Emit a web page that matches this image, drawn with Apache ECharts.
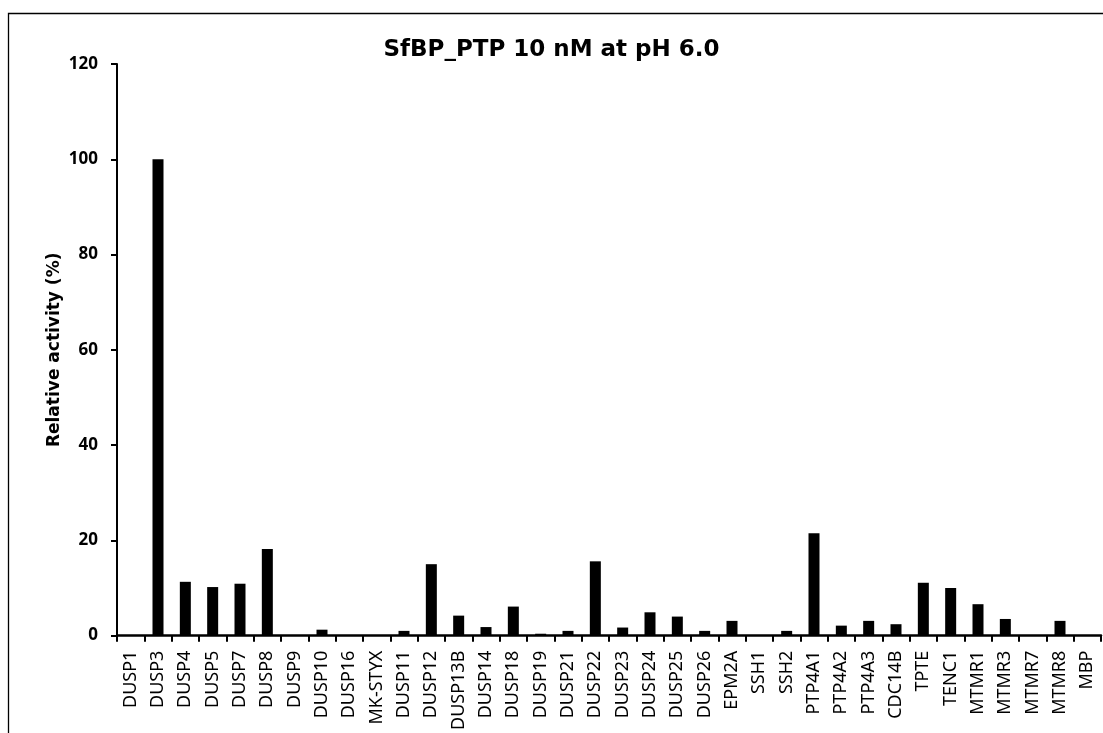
<!DOCTYPE html>
<html>
<head>
<meta charset="utf-8">
<script src="https://cdn.jsdelivr.net/npm/echarts@6/dist/echarts.min.js"></script>
<style>
  html, body { margin: 0; padding: 0; background: #fff; }
  #chart { width: 1103px; height: 733px; }
</style>
</head>
<body>
<div id="chart"></div>
<script>
// Phosphatase panel and relative activity (%) of SfBP_PTP at 10 nM, pH 6.0
const categories = [
  'DUSP1', 'DUSP3', 'DUSP4', 'DUSP5', 'DUSP7', 'DUSP8', 'DUSP9', 'DUSP10', 'DUSP16',
  'MK-STYX', 'DUSP11', 'DUSP12', 'DUSP13B', 'DUSP14', 'DUSP18', 'DUSP19', 'DUSP21',
  'DUSP22', 'DUSP23', 'DUSP24', 'DUSP25', 'DUSP26', 'EPM2A', 'SSH1', 'SSH2', 'PTP4A1',
  'PTP4A2', 'PTP4A3', 'CDC14B', 'TPTE', 'TENC1', 'MTMR1', 'MTMR3', 'MTMR7', 'MTMR8', 'MBP'
];
const activity = [
  0, 100, 11.3, 10.2, 10.9, 18.2, 0, 1.25, 0,
  0, 1.0, 15.0, 4.2, 1.8, 6.1, 0.4, 1.0,
  15.6, 1.7, 4.9, 4.0, 1.0, 3.1, 0, 1.0, 21.5,
  2.1, 3.1, 2.4, 11.1, 10.0, 6.6, 3.5, 0, 3.1, 0
];
const yTicks = [0, 20, 40, 60, 80, 100, 120];

const chart = echarts.init(document.getElementById('chart'), null, { renderer: 'canvas' });
const sans = '"Noto Sans", "DejaVu Sans", sans-serif';
const wide = '"DejaVu Sans", "Noto Sans", sans-serif';

chart.setOption({
  animation: false,
  backgroundColor: '#fff',
  title: {
    text: 'SfBP_PTP 10 nM at pH 6.0',
    left: 'center',
    top: 34,
    textStyle: { fontFamily: wide, fontWeight: 'bold', fontSize: 23, color: '#000' }
  },
  graphic: [{
    type: 'rect',
    silent: true,
    z: -1,
    shape: { x: 8.5, y: 13.5, width: 1200, height: 800 },
    style: { fill: 'none', stroke: '#000', lineWidth: 1.3 }
  }],
  grid: { left: 117, top: 64, right: 2, bottom: 94, containLabel: false },
  xAxis: {
    type: 'category',
    data: categories,
    boundaryGap: true,
    axisLine: { lineStyle: { color: '#000', width: 2.5 } },
    axisTick: { show: true, alignWithLabel: false, length: 6, lineStyle: { color: '#000', width: 2 } },
    axisLabel: {
      interval: 0,
      rotate: 90,
      margin: 15,
      color: '#000',
      fontFamily: sans,
      fontSize: 18
    },
    splitLine: { show: false }
  },
  yAxis: {
    type: 'value',
    min: yTicks[0],
    max: yTicks[yTicks.length - 1],
    interval: yTicks[1] - yTicks[0],
    name: 'Relative activity (%)',
    nameLocation: 'middle',
    nameGap: 54,
    nameMoveOverlap: false,
    nameTextStyle: { fontFamily: wide, fontWeight: 'bold', fontSize: 17, color: '#000' },
    axisLine: { show: true, lineStyle: { color: '#000', width: 2 } },
    axisTick: { show: true, length: 6, lineStyle: { color: '#000', width: 2 } },
    axisLabel: {
      margin: 19,
      color: '#000',
      fontFamily: sans,
      fontWeight: 'bold',
      fontSize: 17
    },
    splitLine: { show: false }
  },
  series: [{
    type: 'bar',
    data: activity,
    barWidth: 11,
    itemStyle: { color: '#000' }
  }]
});
</script>
</body>
</html>
